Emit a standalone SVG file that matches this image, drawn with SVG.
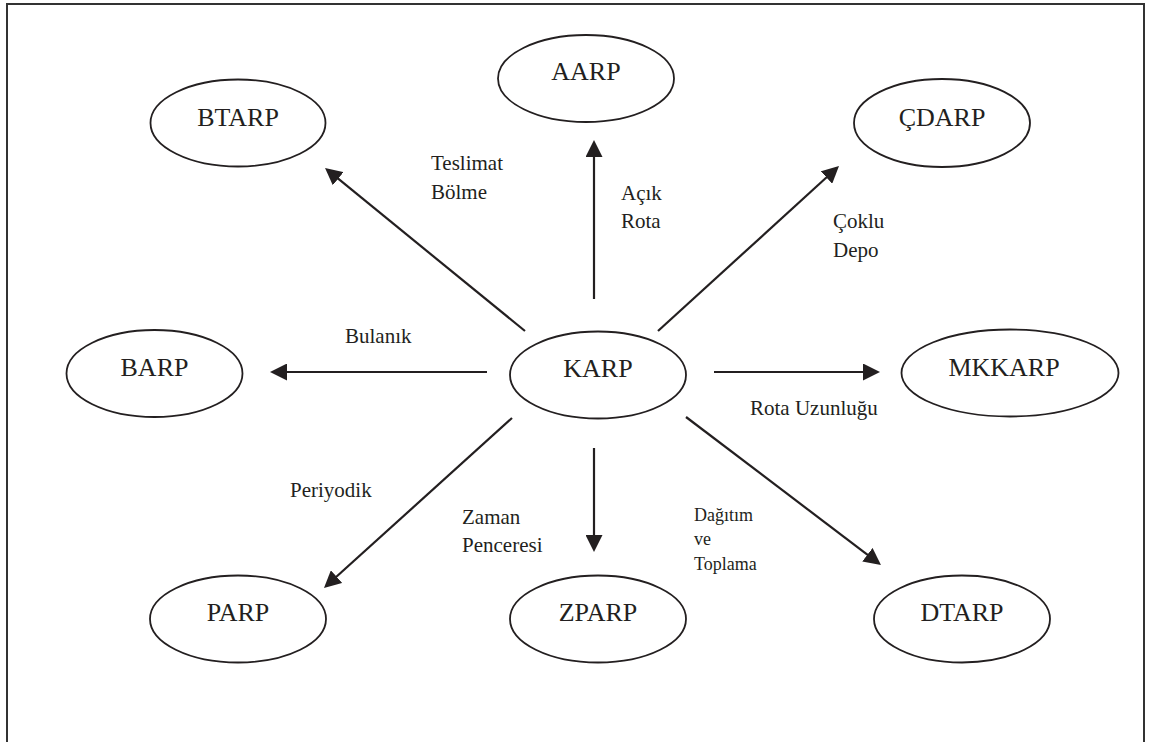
<svg xmlns="http://www.w3.org/2000/svg" width="1154" height="742" viewBox="0 0 1154 742">
  <style>
    .node ellipse { fill: #ffffff; stroke: #231f20; stroke-width: 1.8; }
    .node text { font-family: "Liberation Serif", "Times New Roman", serif; font-size: 26px; fill: #231f20; text-anchor: middle; }
    .edge { stroke: #231f20; stroke-width: 2.2; fill: none; marker-end: url(#arrow); }
    .lbl { font-family: "Liberation Serif", "Times New Roman", serif; font-size: 21px; fill: #231f20; }
    .lbl-sm { font-family: "Liberation Serif", "Times New Roman", serif; font-size: 18px; fill: #231f20; }
  </style>
  <defs>
    <marker id="arrow" viewBox="0 0 17 17" refX="4" refY="8.5" markerWidth="17" markerHeight="17" markerUnits="userSpaceOnUse" orient="auto">
      <path d="M0,0 L17,8.5 L0,17 z" fill="#231f20"/>
    </marker>
  </defs>

  <rect width="1154" height="742" fill="#ffffff"/>
  <!-- frame (open at the bottom edge) -->
  <rect x="7" y="4" width="1137" height="760" fill="none" stroke="#333333" stroke-width="2"/>

  <!-- connectors -->
  <g id="connectors">
    <line class="edge" x1="525" y1="331" x2="335.1" y2="176.2"/>
    <line class="edge" x1="594" y1="299" x2="594" y2="153"/>
    <line class="edge" x1="658" y1="331" x2="829.4" y2="174.8"/>
    <line class="edge" x1="487" y1="372" x2="283" y2="372"/>
    <line class="edge" x1="714" y1="372" x2="867" y2="372"/>
    <line class="edge" x1="512" y1="418" x2="333.6" y2="579.3"/>
    <line class="edge" x1="594" y1="448" x2="594" y2="539"/>
    <line class="edge" x1="686" y1="417" x2="870.6" y2="557.1"/>

    <text class="lbl" x="431" y="170">Teslimat</text>
    <text class="lbl" x="431" y="199">Bölme</text>
    <text class="lbl" x="621" y="200">Açık</text>
    <text class="lbl" x="621" y="228">Rota</text>
    <text class="lbl" x="833" y="228">Çoklu</text>
    <text class="lbl" x="833" y="257">Depo</text>
    <text class="lbl" x="345" y="343">Bulanık</text>
    <text class="lbl" x="750" y="415">Rota Uzunluğu</text>
    <text class="lbl" x="290" y="497">Periyodik</text>
    <text class="lbl" x="462" y="524">Zaman</text>
    <text class="lbl" x="462" y="552">Penceresi</text>
    <text class="lbl-sm" x="694" y="521">Dağıtım</text>
    <text class="lbl-sm" x="694" y="545">ve</text>
    <text class="lbl-sm" x="694" y="570">Toplama</text>
  </g>

  <!-- nodes -->
  <g id="node-btarp" class="node">
    <ellipse cx="238" cy="123" rx="87.5" ry="43.5"/>
    <text x="238" y="126">BTARP</text>
  </g>
  <g id="node-aarp" class="node">
    <ellipse cx="586" cy="78.5" rx="88" ry="43.5"/>
    <text x="586" y="80">AARP</text>
  </g>
  <g id="node-cdarp" class="node">
    <ellipse cx="942" cy="123" rx="88" ry="44"/>
    <text x="942" y="126">ÇDARP</text>
  </g>
  <g id="node-barp" class="node">
    <ellipse cx="154.5" cy="373.5" rx="88" ry="43.5"/>
    <text x="154.5" y="376">BARP</text>
  </g>
  <g id="node-karp" class="node">
    <ellipse cx="598" cy="375" rx="88" ry="43.5"/>
    <text x="598" y="377">KARP</text>
  </g>
  <g id="node-mkkarp" class="node">
    <ellipse cx="1010" cy="373" rx="108.5" ry="43.5"/>
    <text x="1004" y="376">MKKARP</text>
  </g>
  <g id="node-parp" class="node">
    <ellipse cx="238" cy="619" rx="88" ry="43.5"/>
    <text x="238" y="621">PARP</text>
  </g>
  <g id="node-zparp" class="node">
    <ellipse cx="598" cy="619" rx="88" ry="43.5"/>
    <text x="598" y="621">ZPARP</text>
  </g>
  <g id="node-dtarp" class="node">
    <ellipse cx="962" cy="619" rx="88" ry="43.5"/>
    <text x="962" y="621">DTARP</text>
  </g>
</svg>
